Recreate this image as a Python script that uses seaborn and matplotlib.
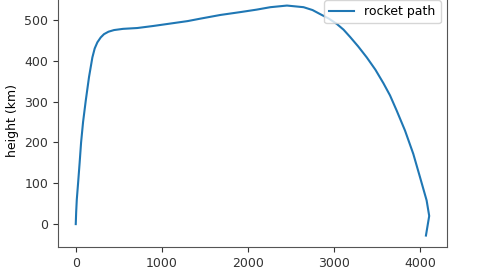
import matplotlib
matplotlib.use("Agg")
import matplotlib.pyplot as plt
import seaborn as sns
import pandas as pd

distance_km = [0, 5, 12, 27, 45, 62, 85, 116, 154, 193, 220, 251, 290, 328, 380,
               444, 550, 714, 900, 1100, 1300, 1448, 1680, 1912, 2100, 2260,
               2453, 2646, 2750, 2839, 2940, 3032, 3110, 3187, 3280, 3380, 3480,
               3573, 3650, 3727, 3824, 3920, 3998, 4075, 4105, 4067]
height_km = [0, 30, 60, 100, 150, 200, 250, 302, 360, 408, 430, 445, 457, 465, 471,
             475, 478, 480, 485, 491, 497, 503, 512, 519, 525, 531,
             535, 531, 524, 514, 503, 490, 476, 458, 435, 408, 378,
             345, 315, 278, 229, 172, 115, 58, 20, -28]
series_label = "rocket path"

df = pd.DataFrame({"distance": distance_km, "height": height_km})

plt.rcParams['font.family'] = ['DejaVu Sans']
fig = plt.figure(figsize=(4.8, 2.7), dpi=100)
ax = fig.add_axes([0.121, 0.085, 0.81, 0.937])
sns.lineplot(data=df, x="distance", y="height", sort=False, estimator=None,
             ax=ax, label=series_label, color="#1f77b4", linewidth=1.5)
ax.set_xticks([0, 1000, 2000, 3000, 4000])
ax.set_yticks([0, 100, 200, 300, 400, 500])
ax.tick_params(labelsize=9, colors="#333333")
for s in ax.spines.values():
    s.set_color("#555555")
ax.set_xlabel("distance (km)", fontsize=9)
ax.set_ylabel("height (km)", fontsize=9)
ax.legend(loc="upper right", fontsize=9)
fig.savefig("out.png", dpi=100)
